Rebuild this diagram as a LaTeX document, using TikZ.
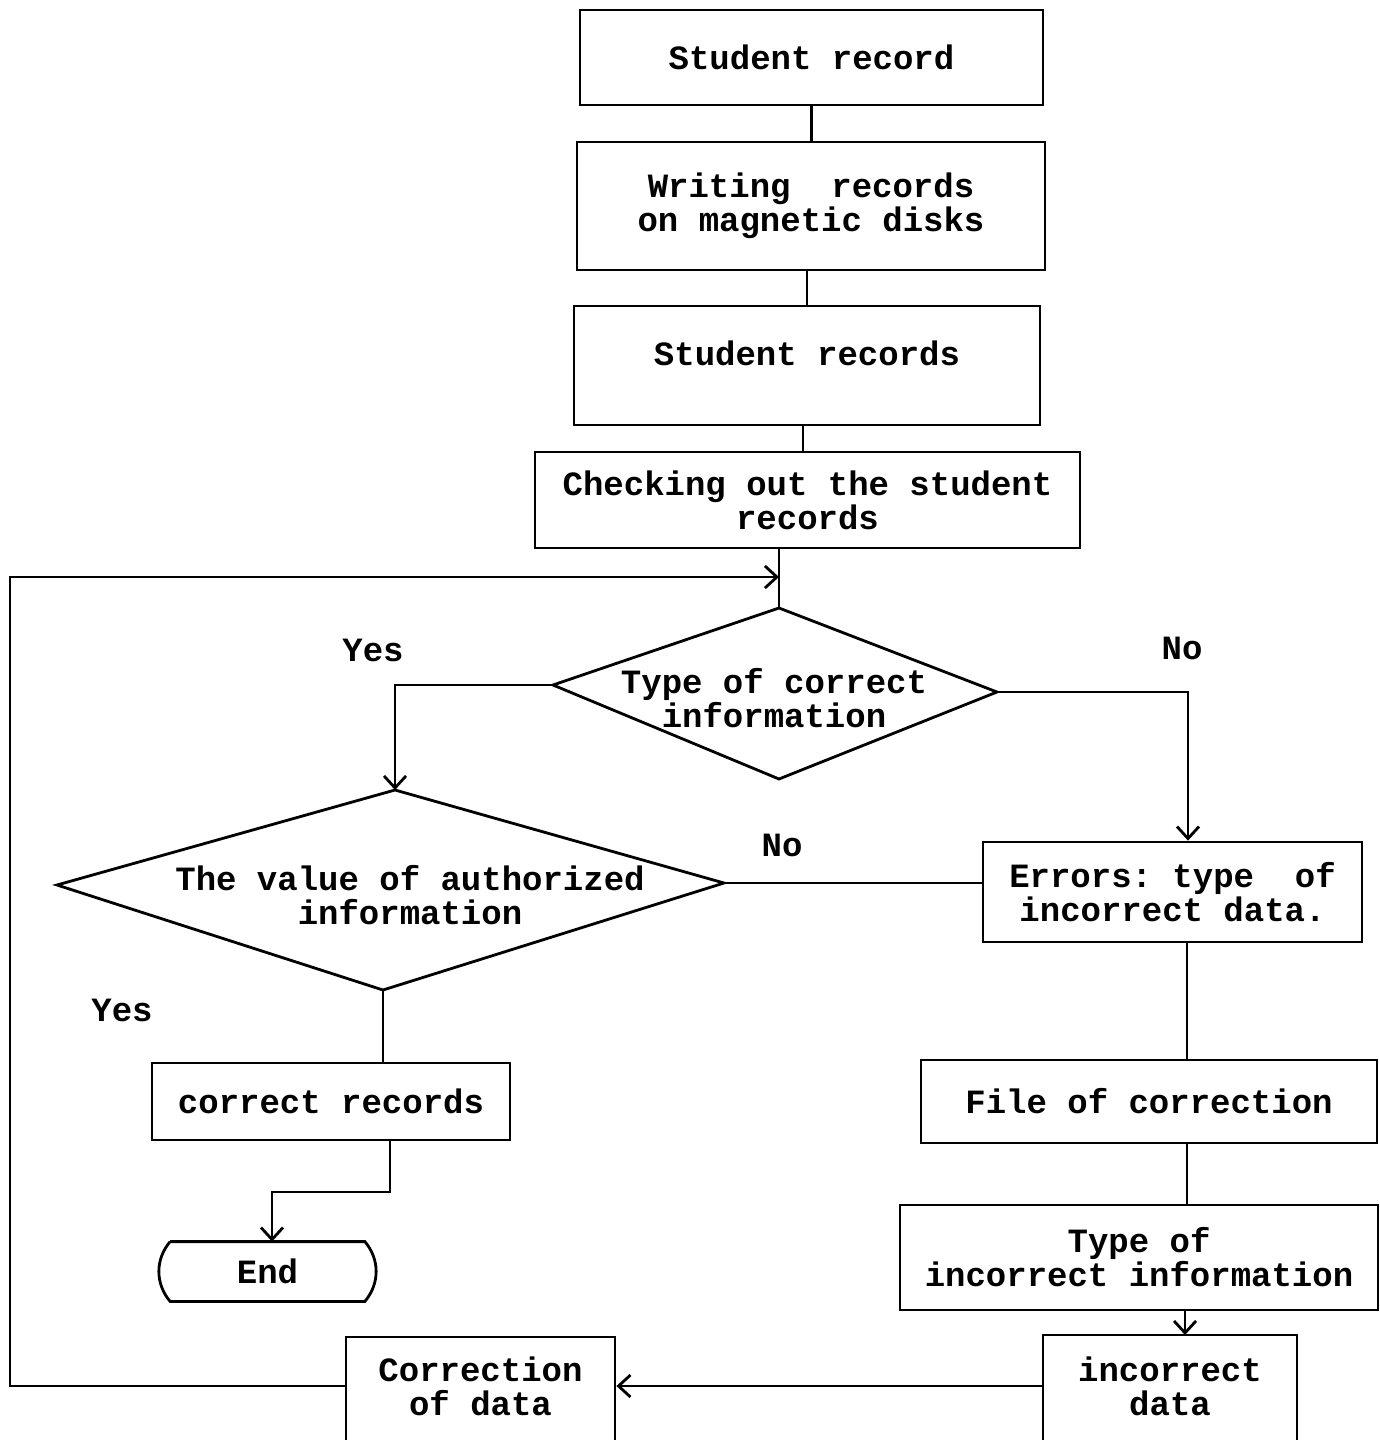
\documentclass[tikz,border=0pt]{standalone}
\usepackage{fontspec}
\setmonofont{Liberation Mono}
\usetikzlibrary{arrows.meta}
\begin{document}
\begin{tikzpicture}[x=0.5pt,y=-0.5pt,
  line width=1.4pt,
  every node/.style={font=\ttfamily\bfseries\fontsize{17}{17}\selectfont, align=center, inner sep=0pt},
  box/.style={draw, line width=1.4pt},
  txt/.style={draw=none},
  arr/.style={-{Straight Barb[length=6pt,width=11pt]}},
]
\useasboundingbox (0,0) rectangle (1380,1440);
% boxes
\node[box, minimum width=231.5pt, minimum height=47.5pt] (b1) at (811.5,57.5) {Student record};
\node[box, minimum width=234pt, minimum height=64pt] (b2) at (811,206) {Writing\ \ records\\on magnetic disks};
\node[box, minimum width=233pt, minimum height=59.5pt, text depth=12pt] (b3) at (807,365.5) {Student records};
\node[box, minimum width=272.5pt, minimum height=48pt] (b4) at (807.5,500) {Checking out the student\\records};
% diamond 1
\coordinate (d1t) at (779,608);
\coordinate (d1l) at (553,685);
\coordinate (d1r) at (997,692);
\coordinate (d1b) at (779,779);
\draw (d1t) -- (d1r) -- (d1b) -- (d1l) -- cycle;
\node[txt] (d1) at (774,698) {Type of correct\\information};
% diamond 2
\coordinate (d2t) at (395,790);
\coordinate (d2l) at (57,885);
\coordinate (d2r) at (724,883);
\coordinate (d2b) at (383,990);
\draw (d2t) -- (d2r) -- (d2b) -- (d2l) -- cycle;
\node[txt] (d2) at (410,895) {The value of authorized\\information};
% right column
\node[box, minimum width=189.5pt, minimum height=50pt] (err) at (1172.5,892) {Errors: type\ \ of\\incorrect data.};
\node[box, minimum width=228pt, minimum height=41.5pt] (fc) at (1149,1101.5) {File of correction};
\node[box, minimum width=239pt, minimum height=52.5pt] (ti) at (1139,1257.5) {Type of\\incorrect information};
% left column
\node[box, minimum width=179pt, minimum height=38.5pt] (cr) at (331,1101.5) {correct records};
\node[txt, minimum width=96pt, minimum height=28.5pt] (endn) at (267.5,1271.5) {End};
\draw (endn.north west) -- (endn.north east) to[bend left=40] (endn.south east) -- (endn.south west) to[bend left=40] (endn.north west);
% bottom boxes (cut by the page edge)
\node[txt, minimum width=127pt, minimum height=20pt] (inc) at (1170,1386) {incorrect\\data};
\draw (1043,1460) |- (1297,1335) -- (1297,1460);
\coordinate (inct) at (1185,1335);
\node[txt, minimum width=134.5pt, minimum height=20pt] (cor) at (480.5,1386) {Correction\\of data};
\draw (346,1460) |- (615,1337) -- (615,1460);
% labels
\node[txt] (yes1) at (373,650) {Yes};
\node[txt] (no1) at (1182,648) {No};
\node[txt] (no2) at (782,845) {No};
\node[txt] (yes2) at (122,1010) {Yes};
% connectors
\draw (b1.south) -- (b1.south |- b2.north);
\draw (b2.south -| b3.north) -- (b3.north);
\draw (b3.south -| 803,0) -- (803,452);
\coordinate (j) at (779,577);
\draw (b4.south -| j) -- (d1t);
\draw[arr] (d1l) -| (d2t);
\draw[arr] (d1r) -| (err.north -| 1188,0);
\draw (d2r) -- (d2r -| err.west);
\draw (d2b) -- (d2b |- cr.north);
\draw[arr] (cr.south -| 390,0) -- (390,1192) -| (endn.north -| 272,0);
\draw (err.south -| 1187,0) -- (fc.north -| 1187,0);
\draw (fc.south -| 1187,0) -- (ti.north -| 1187,0);
\draw[arr] (ti.south -| inct) -- (inct);
\draw[arr] (inc.west) -- (cor.east);
\draw[arr] (cor.west) -- (10,1386) -- (10,577) -- (j);
\end{tikzpicture}
\end{document}
